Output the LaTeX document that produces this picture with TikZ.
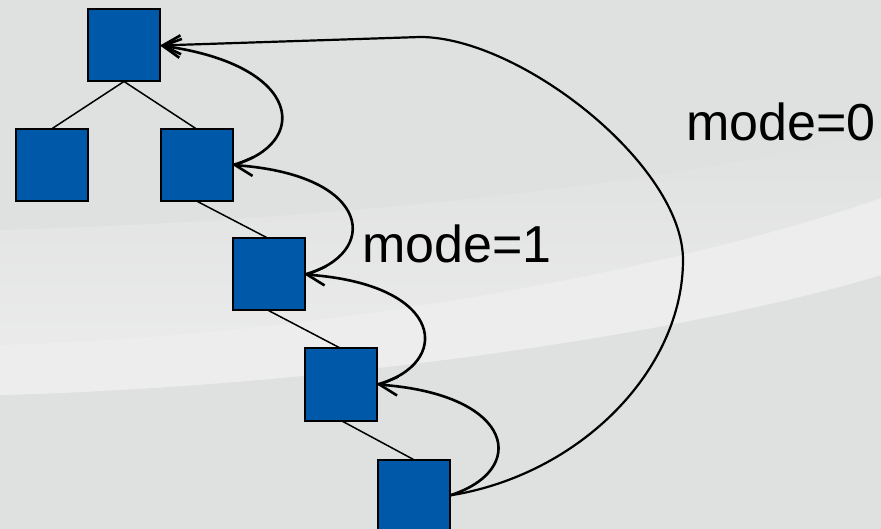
\documentclass[tikz,border=0pt]{standalone}
\usepackage{fontspec}
\setmainfont{Liberation Sans}
\usetikzlibrary{arrows.meta}
\definecolor{bgc}{HTML}{DFE0E0}
\definecolor{bandc}{HTML}{EDEDED}
\definecolor{boxblue}{HTML}{0058A8}
\tikzset{
  sq/.style={draw=black, line width=2pt, fill=boxblue, minimum size=72pt, inner sep=0pt, outer sep=0pt},
  treeedge/.style={line width=1.5pt},
  backarr/.style={line width=2.6pt, -{Straight Barb[length=18pt,width=19pt,line width=2.6pt]}},
  bigarr/.style={line width=2.2pt, -{Straight Barb[length=18pt,width=19pt,line width=2.6pt]}},
  lbl/.style={font=\fontsize{52}{60}\selectfont, anchor=base west, inner sep=0pt}
}
\begin{document}
\begin{tikzpicture}[x=1pt,y=-1pt]
\useasboundingbox (0,0) rectangle (881,529);
\clip (0,0) rectangle (881,529);
% background
\fill[bgc] (0,0) rectangle (881,529);
\shade[top color=bgc, bottom color=bandc]
  (0,230) .. controls (350,220) and (700,180) .. (881,130)
  -- (881,275) .. controls (700,330) and (350,385) .. (0,395) -- cycle;
\fill[bandc]
  (0,345) .. controls (350,335) and (700,262) .. (881,198)
  -- (881,275) .. controls (700,330) and (350,385) .. (0,395) -- cycle;
% nodes
\node[sq] (n1) at (124,45.5) {};
\node[sq] (n2) at (51.5,165) {};
\node[sq] (n3) at (196.5,165) {};
\node[sq] (n4) at (268.5,274.5) {};
\node[sq] (n5) at (341,384.5) {};
\node[sq] (n6) at (413.5,495.5) {};
% tree edges
\draw[treeedge] (n1.south) -- (n2.north);
\draw[treeedge] (n1.south) -- (n3.north);
\draw[treeedge] (n3.south) -- (n4.north);
\draw[treeedge] (n4.south) -- (n5.north);
\draw[treeedge] (n5.south) -- (n6.north);
% back arrows (mode=1)
\draw[backarr] (n3.east) .. controls +(77,-20) and +(145,20) .. (n1.east);
\draw[backarr] (n4.east) .. controls +(75,-20) and +(142,10) .. (n3.east);
\draw[backarr] (n5.east) .. controls +(75,-20) and +(142,10) .. (n4.east);
\draw[backarr] (n6.east) .. controls +(80,-25) and +(138,10) .. (n5.east);
% big arc (mode=0)
\draw[bigarr] (n6.east) .. controls (580,475) and (683,370) .. (683,260)
  .. controls (683,165) and (520,37) .. (420,37) -- (n1.east);
% labels
\node[lbl] (m1) at (362,263) {mode=1};
\node[lbl] (m0) at (686,141) {mode=0};
\end{tikzpicture}
\end{document}
